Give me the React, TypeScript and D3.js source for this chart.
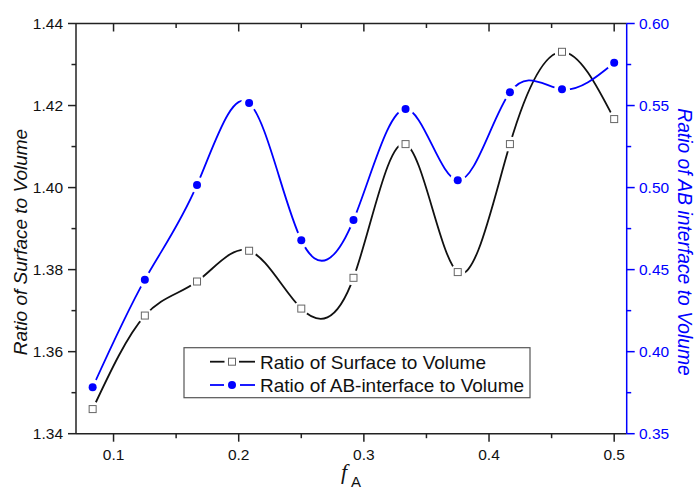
import React from "react";
import * as d3 from "d3";

const fA = [0.0833, 0.125, 0.1667, 0.2083, 0.25, 0.2917, 0.3333, 0.375, 0.4167, 0.4583, 0.5];
const surfaceRatio = [1.346, 1.3688, 1.3771, 1.3846, 1.3705, 1.378, 1.4106, 1.3794, 1.4106, 1.4331, 1.4167];
const interfaceRatio = [0.3783, 0.4439, 0.5016, 0.5515, 0.4679, 0.4802, 0.5479, 0.5044, 0.5581, 0.5599, 0.5761];

const xMajor = [0.1, 0.2, 0.3, 0.4, 0.5];
const xMinor = [0.15, 0.25, 0.35, 0.45];
const yLeftMajor = [1.34, 1.36, 1.38, 1.4, 1.42, 1.44];
const yLeftMinor = [1.35, 1.37, 1.39, 1.41, 1.43];
const yRightMajor = [0.35, 0.4, 0.45, 0.5, 0.55, 0.6];
const yRightMinor = [0.375, 0.425, 0.475, 0.525, 0.575];

const legendLabels = ["Ratio of Surface to Volume", "Ratio of AB-interface to Volume"];

const W = 694;
const H = 489;
const L = 76, R = 626.7, T = 23.5, B = 433.7;
const BLUE = "#0000ff";
const AX = "#222";
const FONT = "'Liberation Sans', Arial, sans-serif";

export default function App() {
  const x = d3.scaleLinear().domain([0.07, 0.51]).range([L, R]);
  const yL = d3.scaleLinear().domain([1.34, 1.44]).range([B, T]);
  const yR = d3.scaleLinear().domain([0.35, 0.6]).range([B, T]);

  const line = d3.line<[number, number]>().x((d) => d[0]).y((d) => d[1]).curve(d3.curveNatural);
  const ptsS: [number, number][] = fA.map((v, i) => [x(v), yL(surfaceRatio[i])]);
  const ptsI: [number, number][] = fA.map((v, i) => [x(v), yR(interfaceRatio[i])]);

  const sq = 3.5;
  const lx = 184, ly = 347.7, lw = 346, lh = 50;
  const row1 = 361.7, row2 = 385;
  const titleY = 242;

  return (
    <svg width={W} height={H} style={{ position: "absolute", left: 0, top: 0, background: "#fff" }}>
      <defs>
        <mask id="mS" maskUnits="userSpaceOnUse" x={0} y={0} width={W} height={H}>
          <rect x={0} y={0} width={W} height={H} fill="#fff" />
          {ptsS.map((p, i) => <circle key={i} cx={p[0]} cy={p[1]} r={7.5} fill="#000" />)}
        </mask>
        <mask id="mI" maskUnits="userSpaceOnUse" x={0} y={0} width={W} height={H}>
          <rect x={0} y={0} width={W} height={H} fill="#fff" />
          {ptsI.map((p, i) => <circle key={i} cx={p[0]} cy={p[1]} r={8} fill="#000" />)}
        </mask>
      </defs>
      <rect x={0} y={0} width={W} height={H} fill="#fff" />

      {/* curves */}
      <path d={line(ptsS) || ""} fill="none" stroke="#111" strokeWidth={1.8} mask="url(#mS)" />
      <path d={line(ptsI) || ""} fill="none" stroke={BLUE} strokeWidth={1.8} mask="url(#mI)" />
      {ptsS.map((p, i) => (
        <rect key={i} x={p[0] - sq} y={p[1] - sq} width={sq * 2} height={sq * 2} fill="#fff" stroke="#666" strokeWidth={1} />
      ))}
      {ptsI.map((p, i) => <circle key={i} cx={p[0]} cy={p[1]} r={4} fill={BLUE} />)}

      {/* axes frame */}
      <line x1={L} x2={R} y1={B} y2={B} stroke={AX} strokeWidth={1.5} />
      <line x1={L} x2={R} y1={T} y2={T} stroke={AX} strokeWidth={1.5} />
      <line x1={L} x2={L} y1={T} y2={B} stroke={AX} strokeWidth={1.5} />
      <line x1={R} x2={R} y1={T} y2={B} stroke={BLUE} strokeWidth={1.5} />

      {/* bottom & top ticks */}
      {xMajor.map((v) => (
        <g key={"xM" + v}>
          <line x1={x(v)} x2={x(v)} y1={B} y2={B + 8} stroke={AX} strokeWidth={1.5} />
          <line x1={x(v)} x2={x(v)} y1={T} y2={T + 8} stroke={AX} strokeWidth={1.5} />
          <text x={x(v)} y={460} textAnchor="middle" fontFamily={FONT} fontSize={15.5} fill="#111">{String(v)}</text>
        </g>
      ))}
      {xMinor.map((v) => (
        <g key={"xm" + v}>
          <line x1={x(v)} x2={x(v)} y1={B} y2={B + 4.5} stroke={AX} strokeWidth={1.5} />
          <line x1={x(v)} x2={x(v)} y1={T} y2={T + 4.5} stroke={AX} strokeWidth={1.5} />
        </g>
      ))}

      {/* left ticks */}
      {yLeftMajor.map((v) => (
        <g key={"yl" + v}>
          <line x1={L - 8} x2={L} y1={yL(v)} y2={yL(v)} stroke={AX} strokeWidth={1.5} />
          <text x={63} y={yL(v) + 5.5} textAnchor="end" fontFamily={FONT} fontSize={15.5} fill="#111">{v.toFixed(2)}</text>
        </g>
      ))}
      {yLeftMinor.map((v) => (
        <line key={"ylm" + v} x1={L - 4.5} x2={L} y1={yL(v)} y2={yL(v)} stroke={AX} strokeWidth={1.5} />
      ))}

      {/* right ticks */}
      {yRightMajor.map((v) => (
        <g key={"yr" + v}>
          <line x1={R} x2={R + 8} y1={yR(v)} y2={yR(v)} stroke={BLUE} strokeWidth={1.5} />
          <text x={639} y={yR(v) + 5.5} textAnchor="start" fontFamily={FONT} fontSize={15.5} fill={BLUE}>{v.toFixed(2)}</text>
        </g>
      ))}
      {yRightMinor.map((v) => (
        <line key={"yrm" + v} x1={R} x2={R + 4.5} y1={yR(v)} y2={yR(v)} stroke={BLUE} strokeWidth={1.5} />
      ))}

      {/* axis titles */}
      <text transform={`translate(27,${titleY}) rotate(-90)`} textAnchor="middle" fontFamily={FONT} fontStyle="italic" fontSize={19} fill="#111">
        Ratio of Surface to Volume
      </text>
      <text transform={`translate(678,${titleY}) rotate(90)`} textAnchor="middle" fontFamily={FONT} fontStyle="italic" fontSize={19.3} fill={BLUE}>
        Ratio of AB interface to Volume
      </text>
      <text x={341} y={479} fontFamily="'Liberation Serif', 'Times New Roman', serif" fontStyle="italic" fontSize={22} fill="#111">f</text>
      <text x={351} y={487} fontFamily={FONT} fontSize={15} fill="#111">A</text>

      {/* legend */}
      <rect x={lx} y={ly} width={lw} height={lh} fill="#fff" stroke="#555" strokeWidth={1.2} />
      <line x1={210} x2={224.5} y1={row1} y2={row1} stroke="#111" strokeWidth={1.8} />
      <line x1={239} x2={255} y1={row1} y2={row1} stroke="#111" strokeWidth={1.8} />
      <rect x={232 - sq} y={row1 - sq} width={sq * 2} height={sq * 2} fill="#fff" stroke="#666" strokeWidth={1} />
      <text x={260} y={row1 + 6.8} fontFamily={FONT} fontSize={19} fill="#111">{legendLabels[0]}</text>
      <line x1={210} x2={224} y1={row2} y2={row2} stroke={BLUE} strokeWidth={1.8} />
      <line x1={240} x2={255} y1={row2} y2={row2} stroke={BLUE} strokeWidth={1.8} />
      <circle cx={232} cy={row2} r={4} fill={BLUE} />
      <text x={260} y={row2 + 6.8} fontFamily={FONT} fontSize={19} fill="#111">{legendLabels[1]}</text>
    </svg>
  );
}
